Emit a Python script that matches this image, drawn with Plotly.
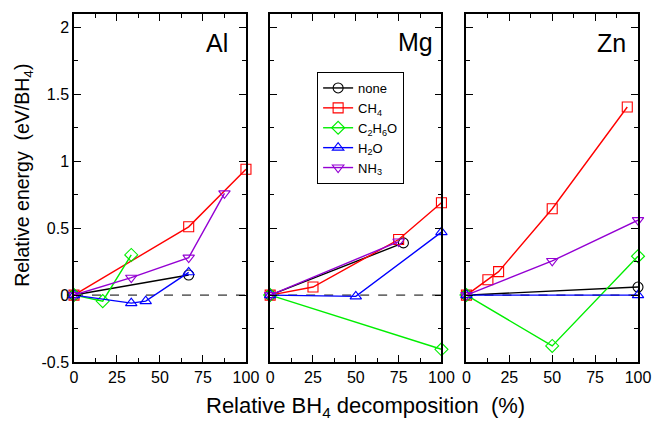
import plotly.graph_objects as go

# ---------------- data ----------------
PANELS = ["Al", "Mg", "Zn"]
SERIES = ["none", "CH<sub>4</sub>", "C<sub>2</sub>H<sub>6</sub>O", "H<sub>2</sub>O", "NH<sub>3</sub>"]

# Al panel
al_none_x = [0, 66.7];            al_none_y = [0, 0.15]
al_ch4_x = [0, 66.7, 100];        al_ch4_y = [0, 0.51, 0.94]
al_c2h6o_x = [0, 16.7, 33.3];     al_c2h6o_y = [0, -0.045, 0.30]
al_h2o_x = [0, 33.3, 41.7, 66.7]; al_h2o_y = [0, -0.06, -0.045, 0.17]
al_nh3_x = [0, 33.3, 66.7, 87.5]; al_nh3_y = [0, 0.13, 0.28, 0.76]

# Mg panel
mg_none_x = [0, 77.8];            mg_none_y = [0, 0.39]
mg_ch4_x = [0, 25, 75, 100];      mg_ch4_y = [0, 0.06, 0.415, 0.69]
mg_c2h6o_x = [0, 100];            mg_c2h6o_y = [0, -0.405]
mg_h2o_x = [0, 50, 100];          mg_h2o_y = [0, -0.01, 0.47]
mg_nh3_x = [0, 75];               mg_nh3_y = [0, 0.40]

# Zn panel
zn_none_x = [0, 100];                     zn_none_y = [0, 0.06]
zn_ch4_x = [0, 12.5, 18.75, 50, 93.75];   zn_ch4_y = [0, 0.115, 0.175, 0.645, 1.405]
zn_c2h6o_x = [0, 50, 100];                zn_c2h6o_y = [0, -0.38, 0.29]
zn_h2o_x = [0, 100];                      zn_h2o_y = [0, 0.0]
zn_nh3_x = [0, 50, 100];                  zn_nh3_y = [0, 0.255, 0.56]

X_TICKS = [0, 25, 50, 75, 100]
X_TICKTEXT = ["0", "25", "50", "75", "100"]
X_MINOR = [12.5, 37.5, 62.5, 87.5]
Y_TICKS = [-0.5, 0, 0.5, 1, 1.5, 2]
Y_TICKTEXT = ["-0.5", "0", "0.5", "1", "1.5", "2"]
Y_MINOR = [-0.25, 0.25, 0.75, 1.25, 1.75]

# ---------------- styles ----------------
COLORS = ["#000000", "#ff0000", "#00ee00", "#0000ff", "#9400d3"]
SYMBOLS = ["circle-open", "square-open", "diamond-open", "triangle-up-open", "triangle-down-open"]
FONT = "Liberation Sans, Arial, Helvetica, sans-serif"
LABEL_X = [83, 85, 84.7]
LABEL_Y = [1.88, 1.89, 1.88]

data = {
    "Al": [(al_none_x, al_none_y), (al_ch4_x, al_ch4_y), (al_c2h6o_x, al_c2h6o_y),
           (al_h2o_x, al_h2o_y), (al_nh3_x, al_nh3_y)],
    "Mg": [(mg_none_x, mg_none_y), (mg_ch4_x, mg_ch4_y), (mg_c2h6o_x, mg_c2h6o_y),
           (mg_h2o_x, mg_h2o_y), (mg_nh3_x, mg_nh3_y)],
    "Zn": [(zn_none_x, zn_none_y), (zn_ch4_x, zn_ch4_y), (zn_c2h6o_x, zn_c2h6o_y),
           (zn_h2o_x, zn_h2o_y), (zn_nh3_x, zn_nh3_y)],
}

W, H = 663, 421
ML, MR, MT, MB = 74, 16, 14, 59
PW = W - ML - MR
PH = H - MT - MB
domains = [[0, 174.7 / PW], [199.3 / PW, 373.3 / PW], [398.7 / PW, 1.0]]

fig = go.Figure()

for p, panel in enumerate(PANELS):
    suffix = "" if p == 0 else str(p + 1)
    for s, name in enumerate(SERIES):
        xs, ys = data[panel][s]
        fig.add_trace(go.Scatter(
            x=xs, y=ys, mode="lines+markers", name=name,
            legendgroup=name, showlegend=(p == 0), cliponaxis=False,
            line=dict(color=COLORS[s], width=1.4),
            marker=dict(symbol=SYMBOLS[s], size=10, color=COLORS[s],
                        line=dict(width=1.1, color=COLORS[s])),
            xaxis="x" + suffix, yaxis="y" + suffix,
        ))

layout = dict(
    width=W, height=H,
    margin=dict(l=ML, r=MR, t=MT, b=MB),
    paper_bgcolor="white", plot_bgcolor="white",
    font=dict(family=FONT, color="black", size=16),
    legend=dict(
        x=(321 - ML) / PW, y=(H - MB - 72) / PH,
        xanchor="left", yanchor="top",
        bordercolor="black", borderwidth=1, bgcolor="white",
        font=dict(size=13, family=FONT), tracegroupgap=0,
        itemwidth=30,
    ),
    shapes=[], annotations=[],
)

for p, panel in enumerate(PANELS):
    suffix = "" if p == 0 else str(p + 1)
    xa = dict(domain=domains[p], range=[0, 100], anchor="y" + suffix,
              tickvals=X_TICKS, ticktext=X_TICKTEXT,
              ticks="inside", ticklen=7, tickwidth=1.2, tickcolor="black",
              minor=dict(tickvals=X_MINOR, ticks="inside", ticklen=4, tickwidth=1.2, tickcolor="black"),
              showline=True, linecolor="black", linewidth=1.5, mirror="allticks",
              showgrid=False, zeroline=False, tickfont=dict(size=16, family=FONT))
    ya = dict(domain=[0, 1], range=[-0.5, 2.1], anchor="x" + suffix,
              tickvals=Y_TICKS, ticktext=Y_TICKTEXT, showticklabels=(p == 0),
              ticks="inside", ticklen=7, tickwidth=1.2, tickcolor="black",
              minor=dict(tickvals=Y_MINOR, ticks="inside", ticklen=4, tickwidth=1.2, tickcolor="black"),
              showline=True, linecolor="black", linewidth=1.5, mirror="allticks",
              showgrid=False, zeroline=False, tickfont=dict(size=16, family=FONT))
    layout["xaxis" + suffix] = xa
    layout["yaxis" + suffix] = ya
    layout["shapes"].append(dict(type="line", xref="x" + suffix, yref="y" + suffix,
                                 x0=0, x1=100, y0=0, y1=0, layer="below",
                                 line=dict(color="black", width=1, dash="dash")))
    layout["annotations"].append(dict(text=panel, xref="x" + suffix, yref="y" + suffix,
                                      x=LABEL_X[p], y=LABEL_Y[p], showarrow=False,
                                      font=dict(size=25, family=FONT, color="black")))

layout["annotations"].append(dict(
    text="Relative BH<sub>4</sub> decomposition\u00a0\u00a0(%)", xref="paper", yref="paper",
    x=(370 - ML) / PW, xanchor="center", y=-(407 - (H - MB)) / PH, yanchor="middle",
    showarrow=False, font=dict(size=22, family=FONT, color="black")))
layout["annotations"].append(dict(
    text="Relative energy\u00a0\u00a0(eV/BH<sub>4</sub>)", xref="paper", yref="paper",
    x=-(ML - 22) / PW, y=(H - MB - 175) / PH, xanchor="center", yanchor="middle",
    textangle=-90, showarrow=False,
    font=dict(size=19.5, family=FONT, color="black")))

fig.update_layout(**layout)
fig.write_html("out.html", config={"displayModeBar": False},
               post_script="document.body.style.margin='0';document.body.style.overflow='hidden';")
